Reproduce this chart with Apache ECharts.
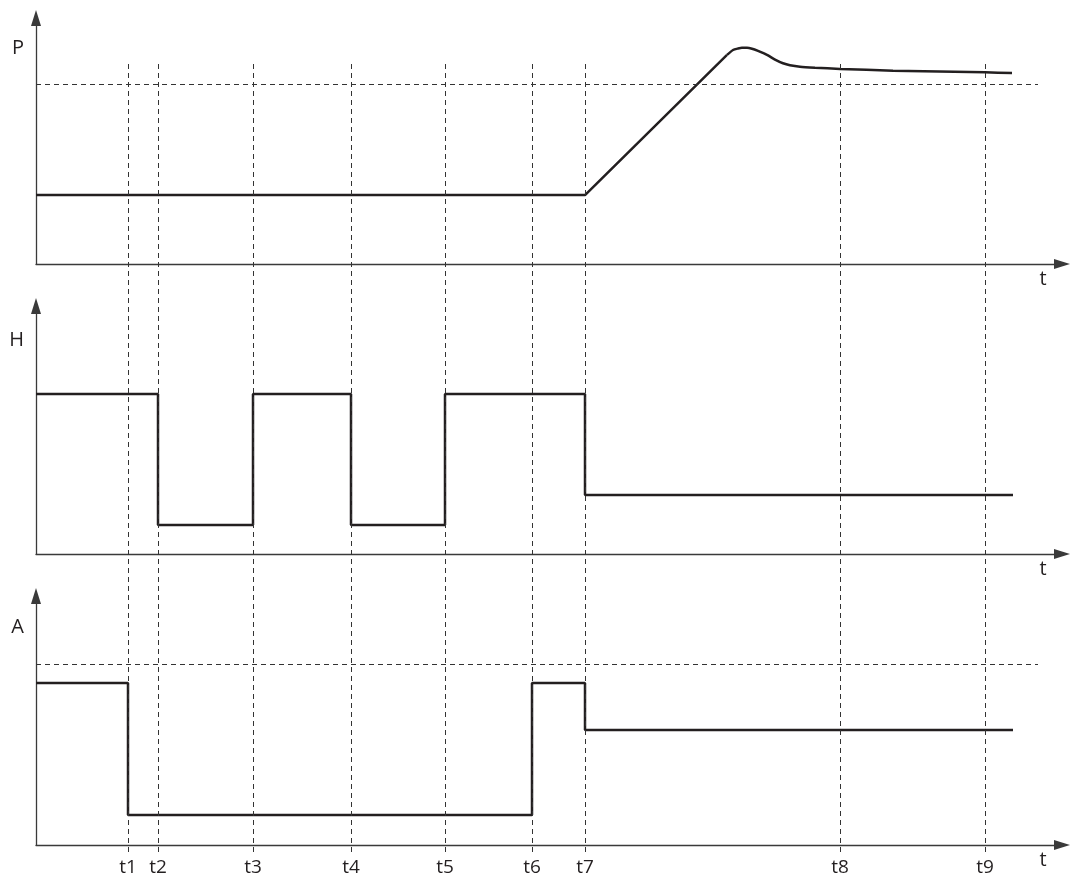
<!DOCTYPE html>
<html>
<head>
<meta charset="utf-8">
<script src="https://cdn.jsdelivr.net/npm/echarts@6/dist/echarts.min.js"></script>
<style>html,body{margin:0;padding:0;background:#fff}#c{width:1076px;height:881px}</style>
</head>
<body>
<div id="c"></div>
<script>
// time marks (x units)
var tValues = [9.2, 12.2, 21.7, 31.5, 40.9, 49.6, 54.9, 80.4, 94.9];
var tLabels = ['t1', 't2', 't3', 't4', 't5', 't6', 't7', 't8', 't9'];
// P: flat + ramp, then overshoot and settle
var pRamp = [[0, 28.0], [54.9, 28.0], [69.1, 85.0]];
var pSettle = [[69.1, 85.0], [69.7, 87.0], [70.2, 87.6], [70.6, 87.9], [71.1, 87.9], [71.6, 87.5], [72.2, 86.6], [73.1, 85.0], [73.9, 83.1], [74.7, 81.6], [75.4, 80.8], [76.4, 80.2], [77.9, 79.8], [80.4, 79.3], [85.7, 78.6], [94.9, 77.9], [97.6, 77.6]];
var pRef = 73.2;
// H: step signal
var hSteps = [[0, 64.5], [12.2, 11.7], [21.7, 64.5], [31.5, 11.7], [40.9, 64.5], [54.9, 23.8], [97.7, 23.8]];
// A: step signal
var aSteps = [[0, 65.1], [9.2, 12.0], [49.6, 65.1], [54.9, 46.2], [97.7, 46.2]];
var aRef = 72.7;
var refEnd = 100.2;
var xMax = 102.6;
var axisNames = ['P', 'H', 'A'];

var FONT = '"Open Sans", "Noto Sans", sans-serif';
var lineCol = '#231f20';
var axisCol = '#3a3a3a';
var dashStyle = {color: '#333', width: 1, type: [5, 4]};

var grids = [
  {left: 36, right: 14, top: 18, height: 246},
  {left: 36, right: 14, top: 306, height: 248},
  {left: 36, right: 14, top: 596, height: 249},
  {left: 36, right: 14, top: 60, height: 792}
];

function mkX(i) {
  var show = i < 3;
  var ax = {
    type: 'value', gridIndex: i, min: 0, max: xMax,
    splitLine: {show: false},
    axisTick: {show: false},
    axisLabel: {show: false},
    axisLine: {show: show, symbol: ['none', 'triangle'], symbolSize: [10, 16], lineStyle: {color: axisCol, width: 1.3}},
    name: show ? 't' : '', nameLocation: 'end', nameGap: -19,
    nameTextStyle: {fontFamily: FONT, fontSize: 20, color: '#231f20', align: 'center', verticalAlign: 'top', padding: [5, 0, 0, 0]}
  };
  if (i === 2) {
    ax.axisLabel = {
      show: true, customValues: tValues, margin: 13,
      fontFamily: FONT, fontSize: 19, color: '#231f20',
      formatter: function (v) {
        for (var k = 0; k < tValues.length; k++) if (Math.abs(tValues[k] - v) < 1e-6) return tLabels[k];
        return '';
      }
    };
  }
  if (i === 3) { ax.show = false; }
  return ax;
}
function mkY(i) {
  var show = i < 3;
  return {
    type: 'value', gridIndex: i, min: 0, max: 100, show: show,
    splitLine: {show: false}, axisTick: {show: false}, axisLabel: {show: false},
    axisLine: {show: show, symbol: ['none', 'triangle'], symbolSize: [10, 16], lineStyle: {color: axisCol, width: 1.3}},
    name: show ? axisNames[i] : '', nameLocation: 'end', nameGap: [-30, -34, -31][i] || 0,
    nameTextStyle: {fontFamily: FONT, fontSize: 20, color: '#231f20', align: 'right', verticalAlign: 'middle', padding: [0, 12, 0, 0]}
  };
}

var lineBase = {type: 'line', symbol: 'none', silent: true, animation: false, lineStyle: {color: lineCol, width: 2.5}};
function ext(o, p) { var r = {}; for (var k in o) r[k] = o[k]; for (var k2 in p) r[k2] = p[k2]; return r; }

var option = {
  backgroundColor: '#fff',
  animation: false,
  grid: grids,
  xAxis: [mkX(0), mkX(1), mkX(2), mkX(3)],
  yAxis: [mkY(0), mkY(1), mkY(2), mkY(3)],
  series: [
    ext(lineBase, {xAxisIndex: 0, yAxisIndex: 0, data: pRamp,
      markLine: {silent: true, symbol: 'none', label: {show: false}, lineStyle: dashStyle,
        data: [[{coord: [0, pRef]}, {coord: [refEnd, pRef]}]]}}),
    ext(lineBase, {xAxisIndex: 0, yAxisIndex: 0, data: pSettle, smooth: 0.2}),
    ext(lineBase, {xAxisIndex: 1, yAxisIndex: 1, data: hSteps, step: 'end'}),
    ext(lineBase, {xAxisIndex: 2, yAxisIndex: 2, data: aSteps, step: 'end',
      markLine: {silent: true, symbol: 'none', label: {show: false}, lineStyle: dashStyle,
        data: [[{coord: [0, aRef]}, {coord: [refEnd, aRef]}]]}}),
    ext(lineBase, {xAxisIndex: 3, yAxisIndex: 3, data: [], z: 1,
      markLine: {silent: true, symbol: 'none', label: {show: false}, lineStyle: dashStyle,
        data: tValues.map(function (v) { return {xAxis: v}; })}})
  ]
};
var chart = echarts.init(document.getElementById('c'), null, {renderer: 'canvas'});
chart.setOption(option);
</script>
</body>
</html>
